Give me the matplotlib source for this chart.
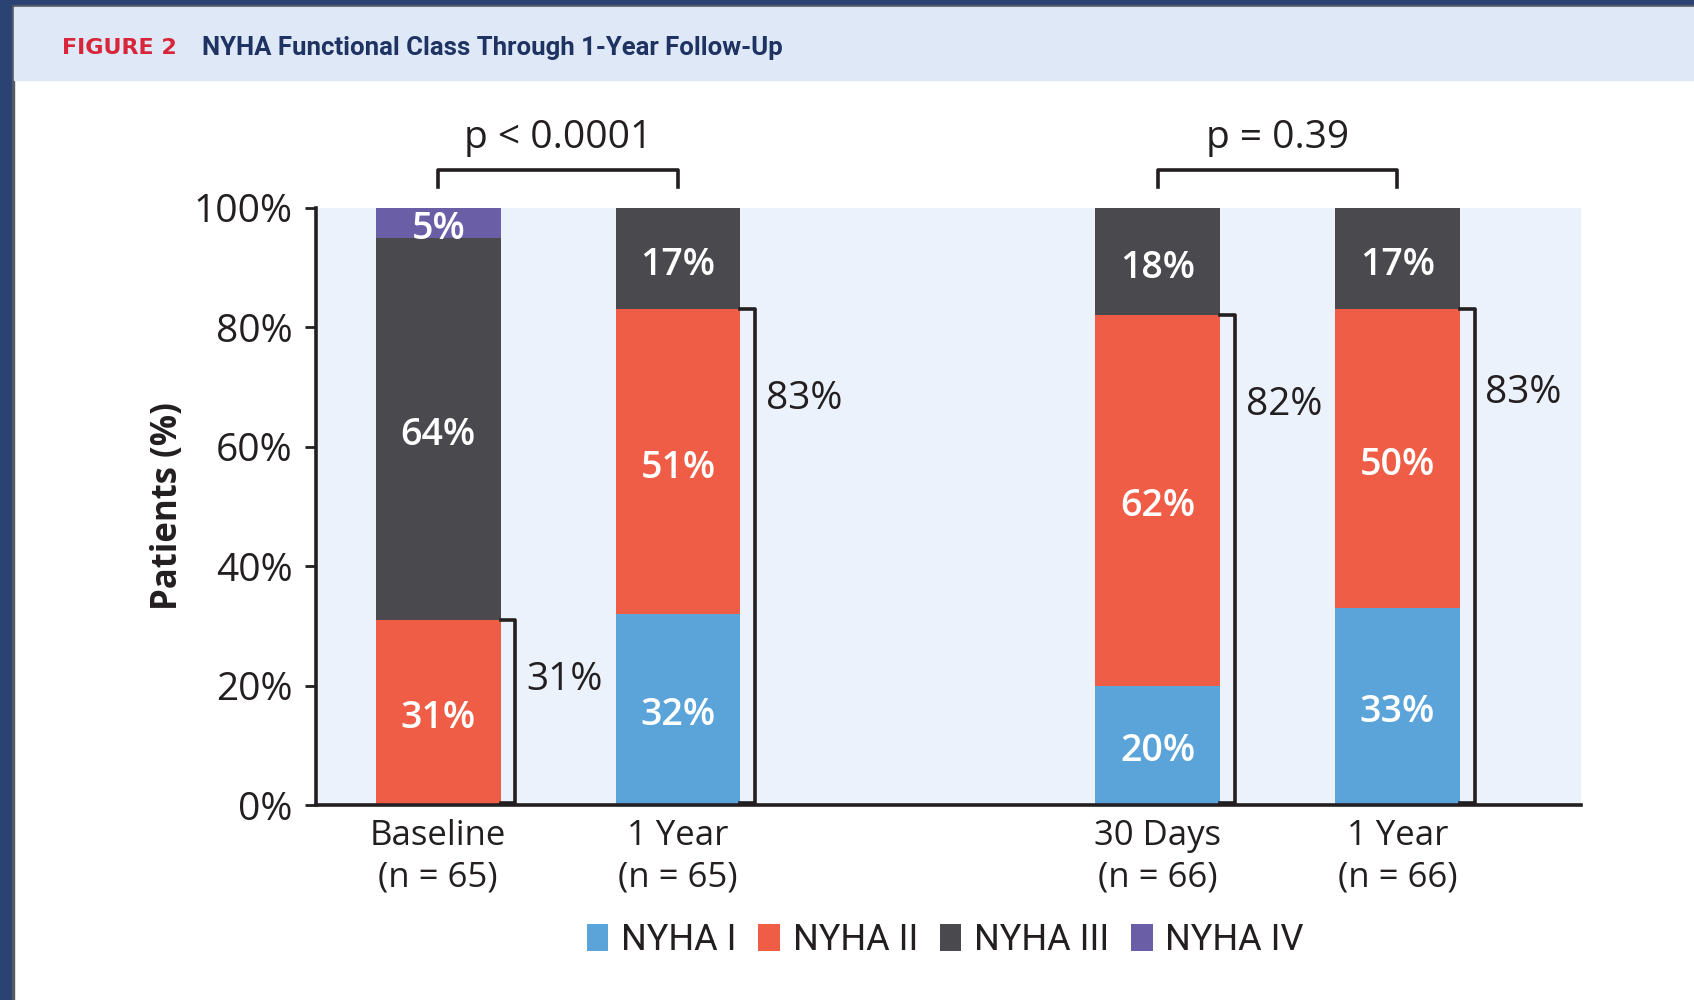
#!/usr/bin/env python3
"""NYHA functional class through 1-year follow-up: stacked bars."""

import matplotlib

matplotlib.use("Agg")
import matplotlib.pyplot as plt
from matplotlib.patches import Patch, Rectangle

# data
GROUPS = ["Baseline\n(n = 65)", "1 Year\n(n = 65)", "30 Days\n(n = 66)", "1 Year\n(n = 66)"]
NYHA_I = [0, 32, 20, 33]
NYHA_II = [31, 51, 62, 50]
NYHA_III = [64, 17, 18, 17]
NYHA_IV = [5, 0, 0, 0]
CLASS_NAMES = ["NYHA I", "NYHA II", "NYHA III", "NYHA IV"]
BRACKET_LABELS = ["31%", "83%", "82%", "83%"]
P_TEXTS = ["p < 0.0001", "p = 0.39"]
P_PAIRS = [(0, 1), (2, 3)]
YTICKS = [0, 20, 40, 60, 80, 100]

POS = [0, 1, 3, 4]
LABEL_DROP = [10, 15, 15, 14]  # how far the bracket label sits below the bracket top
COLORS = ["#5aa4da", "#f05d47", "#4a494d", "#6a5fa7"]
NAVY = "#2a4373"
INK = "#231f20"
AX_BG = "#ecf2fb"
HEADER_BG = "#dfe8f6"
WIDTH = 0.52
FONT = "Open Sans"
NARROW = ["Roboto", "DejaVu Sans"]


def main() -> None:
    plt.rcParams["font.family"] = [FONT, "DejaVu Sans"]
    fig = plt.figure(figsize=(16.94, 10), dpi=100)
    fig.patch.set_facecolor("white")

    # frame and header band
    fig.add_artist(Rectangle((0, 0.995), 1, 0.005, transform=fig.transFigure, color=NAVY, zorder=0))
    fig.add_artist(Rectangle((0, 0), 0.0068, 1, transform=fig.transFigure, color=NAVY, zorder=0))
    fig.add_artist(Rectangle((0.0068, 0), 0.0015, 0.995, transform=fig.transFigure, color="#555a66", zorder=0))
    fig.add_artist(Rectangle((0.0083, 0.9925), 1, 0.0025, transform=fig.transFigure, color="#555a66", zorder=0))
    fig.add_artist(Rectangle((0.0083, 0.92), 1, 0.0725, transform=fig.transFigure, color=HEADER_BG, zorder=0))
    fig.text(0.0366, 0.952, "FIGURE 2", color="#d8253a", fontsize=16, fontweight="bold",
             family=["DejaVu Sans"], va="center")
    fig.text(0.1195, 0.952, "NYHA Functional Class Through 1-Year Follow-Up", color="#1f3363",
             fontsize=18.5, fontweight="bold", family=NARROW, va="center")

    ax = fig.add_axes([0.1865, 0.195, 0.7468, 0.597])
    ax.set_facecolor(AX_BG)

    series = [NYHA_I, NYHA_II, NYHA_III, NYHA_IV]
    bottoms = [0] * len(POS)
    for vals, color in zip(series, COLORS):
        ax.bar(POS, vals, WIDTH, bottom=bottoms, color=color, zorder=2)
        for x, b, v in zip(POS, bottoms, vals):
            if v > 0:
                ax.text(x, b + v / 2 - 1, f"{v}%", color="white", fontsize=27,
                        fontweight="semibold", ha="center", va="center", zorder=3)
        bottoms = [b + v for b, v in zip(bottoms, vals)]

    # brackets for NYHA I + II
    for x, lo, mid, lab, drop in zip(POS, NYHA_I, NYHA_II, BRACKET_LABELS, LABEL_DROP):
        top = lo + mid
        edge = x + WIDTH / 2
        bx = edge + 0.062
        ax.plot([edge, bx, bx, edge], [top, top, 0.4, 0.4], color=INK, lw=2.6,
                solid_joinstyle="round", zorder=4)
        ax.text(bx + 0.045, top - drop, lab, color=INK, fontsize=28, ha="left", va="center")

    # p-value brackets
    for (i, j), txt in zip(P_PAIRS, P_TEXTS):
        x0, x1 = POS[i], POS[j]
        ax.plot([x0, x0, x1, x1], [103.6, 106.4, 106.4, 103.6], color=INK, lw=2.6,
                solid_joinstyle="round", clip_on=False)
        ax.text((x0 + x1) / 2, 111.8, txt, color=INK, fontsize=28, ha="center", va="center")

    ax.set_xlim(-0.51, 4.766)
    ax.set_ylim(0, 100)
    ax.set_xticks(POS)
    ax.set_xticklabels(GROUPS, fontsize=25, color=INK, linespacing=1.3)
    ax.set_yticks(YTICKS)
    ax.set_yticklabels([f"{t}%" for t in YTICKS], fontsize=28, color=INK)
    ax.tick_params(axis="x", length=0, pad=10)
    ax.tick_params(axis="y", length=8, width=2, color=INK, pad=9)
    for side in ["top", "right"]:
        ax.spines[side].set_visible(False)
    for side in ["left", "bottom"]:
        ax.spines[side].set_linewidth(2.6)
        ax.spines[side].set_color(INK)
    ax.set_ylabel("Patients (%)", fontsize=25, fontweight="bold", color=INK, labelpad=5)

    handles = [Patch(facecolor=c, edgecolor="none") for c in COLORS]
    fig.legend(handles, CLASS_NAMES, loc="center", bbox_to_anchor=(0.558, 0.06), ncol=4,
               frameon=False, prop={"family": NARROW, "size": 26}, handlelength=0.6,
               handleheight=0.8, handletextpad=0.35, columnspacing=0.6, labelcolor=INK)

    fig.savefig("out.png", dpi=100)
    plt.close(fig)


if __name__ == "__main__":
    main()
